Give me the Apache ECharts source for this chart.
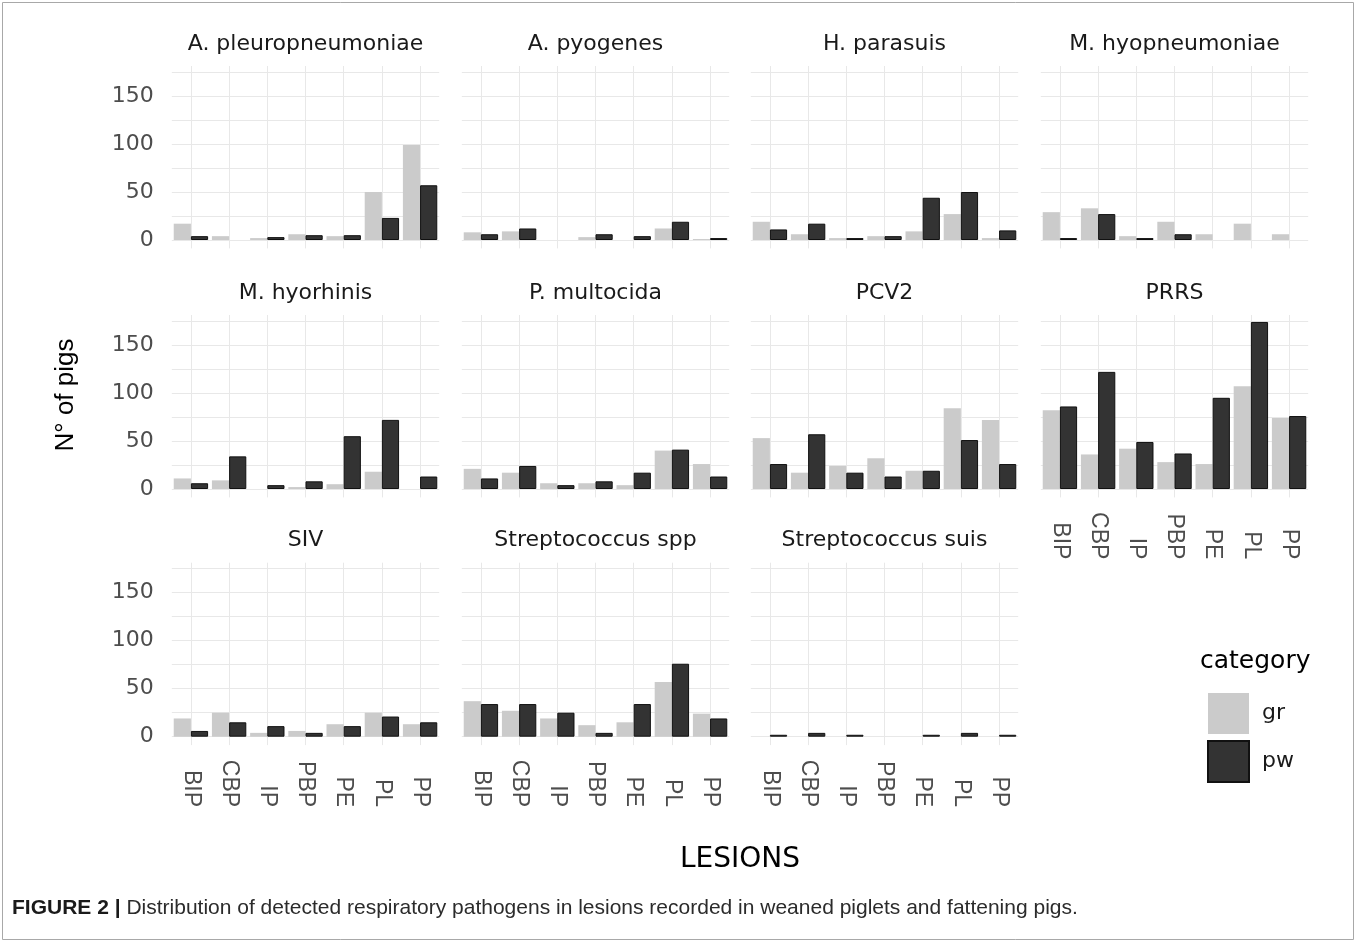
<!DOCTYPE html>
<html lang="en">
<head>
<meta charset="UTF-8">
<title>Respiratory pathogens by lesion</title>
<style>
  html, body { margin: 0; padding: 0; background: #fff; }
  #main { width: 1357px; height: 943px; }
</style>
</head>
<body>
<div id="main"></div>
<script src="https://cdn.jsdelivr.net/npm/echarts@6/dist/echarts.min.js"></script>
<script>
var lesions = ['BIP', 'CBP', 'IP', 'PBP', 'PE', 'PL', 'PP'];
var pathogens = ['A. pleuropneumoniae', 'A. pyogenes', 'H. parasuis', 'M. hyopneumoniae',
                 'M. hyorhinis', 'P. multocida', 'PCV2', 'PRRS',
                 'SIV', 'Streptococcus spp', 'Streptococcus suis'];
// one row per pathogen, columns follow lesions
var grValues = [
  [17, 4, 2, 6, 4, 50, 99],
  [8, 9, 0, 3, 0, 12, 1],
  [19, 6, 2, 4, 9, 27, 2],
  [29, 33, 4, 19, 6, 17, 6],
  [11, 9, 0, 2, 5, 18, 0],
  [21, 17, 6, 6, 4, 40, 26],
  [53, 17, 24, 32, 19, 84, 72],
  [82, 36, 42, 28, 26, 107, 74],
  [19, 25, 4, 6, 13, 25, 13],
  [37, 27, 19, 12, 15, 57, 24],
  [0, 0, 0, 0, 0, 0, 0]
];
var pwValues = [
  [4, 0, 3, 5, 5, 23, 57],
  [6, 12, 0, 6, 4, 19, 2],
  [11, 17, 2, 4, 44, 50, 10],
  [2, 27, 2, 6, 0, 0, 0],
  [6, 34, 4, 8, 55, 72, 13],
  [11, 24, 4, 8, 17, 41, 13],
  [26, 57, 17, 13, 19, 51, 26],
  [86, 122, 49, 37, 95, 174, 76],
  [6, 15, 11, 4, 11, 21, 15],
  [34, 34, 25, 4, 34, 76, 19],
  [2, 4, 2, 0, 2, 4, 2]
];
var yLabels = [0, 50, 100, 150];
var yGridLines = [0, 25, 50, 75, 100, 125, 150, 175];

var colLeft = [168, 458, 747, 1037];
var rowTop = [66, 315, 562.7];
var panelW = 275, panelH = 182.4;
var unit = panelW / 7.2;

function noZero(arr) {
  return arr.map(function (v) { return v === 0 ? '-' : v; });
}

var grids = [], xAxes = [], yAxes = [], series = [], texts = [];
pathogens.forEach(function (name, i) {
  var r = Math.floor(i / 4), c = i % 4;
  var showX = i >= 7;
  grids.push({
    left: colLeft[c] + 0.1 * unit,
    top: rowTop[r],
    width: 7 * unit,
    height: panelH
  });
  xAxes.push({
    type: 'category',
    gridIndex: i,
    data: lesions,
    axisLine: {show: false, onZero: false},
    axisTick: {show: false},
    splitLine: {show: true, interval: 0, alignWithLabel: true, lineStyle: {color: '#e8e8e8', width: 1}},
    axisLabel: {
      show: showX, interval: 0, rotate: -90, align: 'right', verticalAlign: 'middle',
      margin: 62, fontFamily: 'Liberation Sans', fontSize: 23, color: '#4d4d4d'
    }
  });
  yAxes.push({
    type: 'value',
    gridIndex: i,
    min: -8.75,
    max: 181.25,
    axisLine: {show: false},
    axisTick: {show: false, customValues: yGridLines},
    axisLabel: {
      show: c === 0, customValues: yLabels, margin: 18,
      fontFamily: 'DejaVu Sans', fontSize: 22, color: '#4d4d4d'
    },
    splitLine: {show: true, lineStyle: {color: '#e8e8e8', width: 1}}
  });
  series.push({
    name: 'gr', type: 'bar', xAxisIndex: i, yAxisIndex: i,
    barGap: '0%', barCategoryGap: '10%',
    itemStyle: {color: '#cbcbcb'},
    data: noZero(grValues[i])
  });
  series.push({
    name: 'pw', type: 'bar', xAxisIndex: i, yAxisIndex: i,
    barGap: '0%', barCategoryGap: '10%',
    itemStyle: {color: '#333333', borderColor: '#111111', borderWidth: 1},
    data: noZero(pwValues[i])
  });
  texts.push({
    type: 'text',
    x: colLeft[c] + panelW / 2,
    y: rowTop[r] - 22,
    style: {
      text: name, align: 'center', verticalAlign: 'middle',
      font: '22px "DejaVu Sans"', fill: '#1a1a1a'
    }
  });
});

// axis titles, legend title, caption, frame
texts.push({
  type: 'text', x: 66, y: 395, rotation: Math.PI / 2,
  style: {text: 'N° of pigs', align: 'center', verticalAlign: 'middle',
          font: '26px "Liberation Sans"', fill: '#000'}
});
texts.push({
  type: 'text', x: 740, y: 860,
  style: {text: 'LESIONS', align: 'center', verticalAlign: 'middle',
          font: '28px "DejaVu Sans"', fill: '#000'}
});
texts.push({
  type: 'text', x: 1200, y: 661,
  style: {text: 'category', align: 'left', verticalAlign: 'middle',
          font: '25px "DejaVu Sans"', fill: '#000'}
});
texts.push({
  type: 'text', x: 12, y: 908,
  style: {
    text: '{b|FIGURE 2 |} Distribution of detected respiratory pathogens in lesions recorded in weaned piglets and fattening pigs.',
    align: 'left', verticalAlign: 'middle',
    font: '21px "Liberation Sans"', fill: '#2b2b2b',
    rich: {b: {font: 'bold 21px "Liberation Sans"', fill: '#1a1a1a'}}
  }
});
texts.push({
  type: 'rect',
  shape: {x: 2.5, y: 2.5, width: 1351, height: 937},
  style: {fill: 'none', stroke: '#a8a8a8', lineWidth: 1}
});

var myChart = echarts.init(document.getElementById('main'));
myChart.setOption({
  backgroundColor: '#ffffff',
  animation: false,
  grid: grids,
  xAxis: xAxes,
  yAxis: yAxes,
  series: series,
  legend: {
    data: ['gr', 'pw'],
    orient: 'vertical',
    left: 1202,
    top: 688,
    itemWidth: 41,
    itemHeight: 41,
    itemGap: 6,
    icon: 'rect',
    selectedMode: false,
    textStyle: {fontFamily: 'DejaVu Sans', fontSize: 22, color: '#1a1a1a', padding: [0, 0, 0, 8]}
  },
  graphic: texts
});
</script>
</body>
</html>
